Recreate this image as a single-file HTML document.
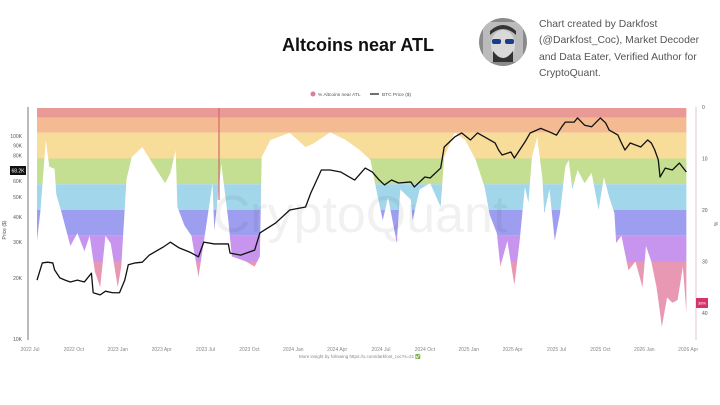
<!DOCTYPE html>
<html><head><meta charset="utf-8"><style>
body{margin:0;width:720px;height:405px;background:#fff;overflow:hidden;font-family:"Liberation Sans",sans-serif;position:relative}
.t{position:absolute;white-space:nowrap}
</style></head><body>
<div class="t" style="left:282px;top:35px;font-size:18px;font-weight:bold;color:#111">Altcoins near ATL</div>
<svg style="position:absolute;left:478px;top:17px" width="50" height="50"><defs><clipPath id="cc"><circle cx="25" cy="25" r="24"/></clipPath></defs><g clip-path="url(#cc)"><rect width="50" height="50" fill="#8a8a8a"/><rect x="5" y="5" width="40" height="40" fill="#bbb"/><ellipse cx="25" cy="28" rx="12" ry="15" fill="#d9d9d9"/><path d="M12 18 Q25 6 38 18 L38 14 Q25 2 12 14Z" fill="#333"/><rect x="14" y="22" width="9" height="5" rx="2" fill="#1a3f8a"/><rect x="27" y="22" width="9" height="5" rx="2" fill="#1a3f8a"/><path d="M15 34 Q25 48 35 34 L35 45 L15 45Z" fill="#333"/></g></svg>
<div class="t" style="left:539px;top:17px;font-size:10.4px;line-height:16.3px;color:#555">Chart created by Darkfost<br>(@Darkfost_Coc), Market Decoder<br>and Data Eater, Verified Author for<br>CryptoQuant.</div>
<svg id="ch" width="720" height="405" style="position:absolute;left:0;top:0"></svg>
<script>
const pctDates=[2022.54,2022.56,2022.59,2022.61,2022.64,2022.65,2022.68,2022.73,2022.77,2022.81,2022.84,2022.87,2022.90,2022.93,2022.96,2023.00,2023.02,2023.05,2023.08,2023.14,2023.21,2023.27,2023.30,2023.33,2023.34,2023.38,2023.42,2023.46,2023.50,2023.54,2023.55,2023.59,2023.63,2023.65,2023.73,2023.78,2023.81,2023.82,2023.87,2023.98,2024.07,2024.12,2024.21,2024.30,2024.38,2024.44,2024.47,2024.51,2024.54,2024.59,2024.61,2024.67,2024.68,2024.72,2024.78,2024.84,2024.86,2024.92,2024.98,2025.04,2025.09,2025.12,2025.16,2025.18,2025.22,2025.26,2025.29,2025.32,2025.34,2025.36,2025.39,2025.42,2025.43,2025.46,2025.49,2025.52,2025.55,2025.57,2025.59,2025.62,2025.66,2025.70,2025.74,2025.77,2025.80,2025.83,2025.84,2025.87,2025.91,2025.95,2025.99,2026.01,2026.04,2026.07,2026.09,2026.10,2026.13,2026.16,2026.19,2026.22,2026.24];
const pctValues=[26,20,6.4,11.6,12,17,20.5,27,24.5,28,25,32,35,25,26.5,35,31,14,9.7,7.8,11.6,14.8,12.8,8.4,19.4,23,25,33,24,14.8,24,11,22,29,30,31,29,9.7,6.4,5,7.8,7,4.9,6.4,8.4,10.3,15.5,22,17.5,26.4,16,18,22,16,14.8,19.4,9.7,5,6.4,10.3,15.5,21,24.5,31,26,34.6,26,15.5,18.6,9.7,5.8,14,20.6,16,26,20.6,11.6,10.3,16,12.2,14.8,12.8,20,13.6,17.5,20.6,26.4,25,31.7,30,35,27,30,35,40,42.7,37,38,37.5,31,40];
const btcDates=[2022.54,2022.57,2022.60,2022.63,2022.64,2022.67,2022.70,2022.73,2022.77,2022.81,2022.85,2022.86,2022.90,2022.93,2022.97,2023.01,2023.04,2023.06,2023.10,2023.14,2023.18,2023.26,2023.30,2023.35,2023.41,2023.46,2023.49,2023.55,2023.63,2023.64,2023.70,2023.78,2023.81,2023.90,2023.98,2024.07,2024.10,2024.16,2024.21,2024.27,2024.32,2024.35,2024.41,2024.45,2024.49,2024.52,2024.56,2024.60,2024.67,2024.69,2024.75,2024.78,2024.84,2024.86,2024.92,2024.96,2025.01,2025.05,2025.12,2025.15,2025.17,2025.19,2025.24,2025.26,2025.29,2025.32,2025.35,2025.41,2025.46,2025.50,2025.53,2025.55,2025.60,2025.62,2025.66,2025.70,2025.75,2025.78,2025.80,2025.85,2025.87,2025.89,2025.92,2025.98,2026.02,2026.04,2026.06,2026.08,2026.09,2026.12,2026.16,2026.20,2026.24];
const btcValues=[19.5,23.7,23.9,23.7,21.9,20.0,19.5,19.1,19.5,19.1,21.1,16.9,16.5,17.2,16.9,16.9,19.5,23.2,23.7,23.9,25.9,28.4,30.0,28.1,26.8,25.4,30.0,29.4,29.4,26.5,25.9,27.4,33.3,37.3,43.2,44.7,52.4,68.0,68.0,66.5,62.8,60.7,69.5,66.5,60.7,57.4,60.7,58.7,59.4,56.1,62.8,62.1,69.5,88.3,98.9,103.5,95.6,103.5,95.6,92.4,85.3,80.6,83.4,77.9,85.3,93.4,103.5,109,104.7,101,111,117,117,122.7,113,111,122.7,116,107,101,92.4,85.3,92.4,88.3,95.6,92.4,85.3,76.2,62.8,69.5,68.0,73.6,66.5];
const priceTicks=[10,20,30,40,50,60,80,90,100];
const priceTickLabels=["10K","20K","30K","40K","50K","60K","80K","90K","100K"];
const pctTicks=[0,10,20,30,40];
const bandEdges=[0,2.1,5,10,15,20,25,30,60];
const dateTicks=[2022.5,2022.75,2023,2023.25,2023.5,2023.75,2024,2024.25,2024.5,2024.75,2025,2025.25,2025.5,2025.75,2026,2026.25];
const dateTickLabels=["2022 Jul","2022 Oct","2023 Jan","2023 Apr","2023 Jul","2023 Oct","2024 Jan","2024 Apr","2024 Jul","2024 Oct","2025 Jan","2025 Apr","2025 Jul","2025 Oct","2026 Jan","2026 Apr"];
const bandColors=["#ea9a96","#f4bb92","#f7dc9a","#c4de92","#a2d6ea","#9e9ef0","#c895ee","#e998b4"];
const X=t=>30+(t-2022.5)*175.5, YP=p=>107+p*5.15, YB=v=>339-203*Math.log10(v/10);
const ns="http://www.w3.org/2000/svg", svg=document.getElementById('ch');
function mk(tag,at,parent){const e=document.createElementNS(ns,tag);for(const k in at)e.setAttribute(k,at[k]);(parent||svg).appendChild(e);return e;}
function tx(x,y,s,size,fill,anchor){const e=mk('text',{x:x,y:y,'font-size':size,fill:fill,'text-anchor':anchor||'middle','font-family':'Liberation Sans, sans-serif'});e.textContent=s;return e;}
const defs=mk('defs',{});
const cp=mk('clipPath',{id:'ac'},defs);
let pts=X(pctDates[0])+",108 ";
pctDates.forEach((d,i)=>{pts+=X(d)+","+YP(pctValues[i])+" ";});
pts+=X(pctDates[pctDates.length-1])+",108";
mk('polygon',{points:pts},cp);
const ar=mk('g',{'clip-path':'url(#ac)'});


bandColors.forEach((c,i)=>{const r=mk('rect',{x:37,y:YP(bandEdges[i]),width:650,height:YP(bandEdges[i+1])-YP(bandEdges[i]),fill:c},ar);});
const wm=tx(360,232,"CryptoQuant",52,"#000");
wm.setAttribute('opacity','0.05');


const spike=mk('line',{x1:219,y1:108,x2:219,y2:200,stroke:'#d26a6a','stroke-width':1.2});


let lp="";btcDates.forEach((d,i)=>{lp+=(i?"L":"M")+X(d)+" "+YB(btcValues[i]);});
const line=mk('path',{d:lp,fill:'none',stroke:'#111','stroke-width':1.3,'stroke-linejoin':'round'});


const la=mk('line',{x1:28,y1:107,x2:28,y2:340,stroke:'#555','stroke-width':0.8});


const ra=mk('line',{x1:696,y1:107,x2:696,y2:340,stroke:'#e3b5c3','stroke-width':0.8});


priceTicks.forEach((v,i)=>{const e=tx(22,YB(v)+2,priceTickLabels[i],5,"#555","end");});
const badge=mk('rect',{x:10,y:166,width:16,height:9,fill:'#111'});


const bt=tx(18,172.5,"68.2K",5,"#fff");


const ly=tx(6,230,"Price ($)",5,"#555");
ly.setAttribute('transform','rotate(-90 6 230)');


pctTicks.forEach(v=>{const e=tx(702,YP(v)+2,String(v),5,"#555","start");});
const pb=mk('rect',{x:696,y:298,width:12,height:10,fill:'#d6336c'});


const pbt=tx(702,304.5,"38%",4,"#fff");


const ry=tx(714,224,"%",5,"#555");
ry.setAttribute('transform','rotate(90 714 224)');


dateTicks.forEach((d,i)=>{const e=tx(X(d),351,dateTickLabels[i],5,"#888");});
const ft=tx(360,358,"More insight by following https://x.com/darkfost_coc?s=21 \u2705",4.5,"#888");


const ld=mk('circle',{cx:313,cy:94,r:2.5,fill:'#d9809a'});


const lt1=tx(318,95.8,"% Altcoins near ATL",4.8,"#555","start");


const ll=mk('line',{x1:370,y1:94,x2:379,y2:94,stroke:'#111','stroke-width':1.2});


const lt2=tx(382,95.8,"BTC Price ($)",4.8,"#555","start");


</script>
</body></html>
